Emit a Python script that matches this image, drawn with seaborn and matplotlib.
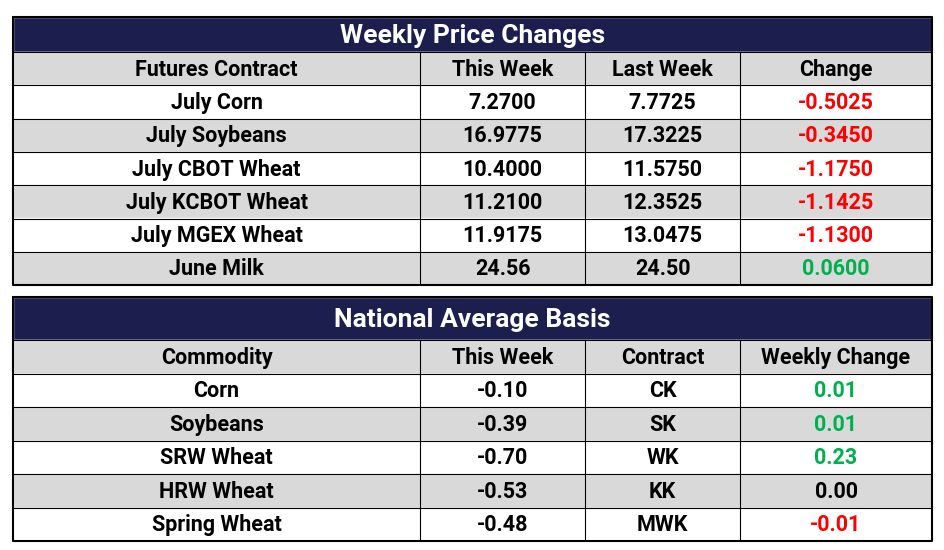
import seaborn as sns
import matplotlib.pyplot as plt

sns.set_theme(style="white")
plt.rcParams['font.family'] = ['Roboto', 'DejaVu Sans']

NAVY = '#1c1e4e'
GRAY = '#d9d9d9'
RED = '#ff0000'
GREEN = '#00b050'

title1 = "Weekly Price Changes"
header1 = ["Futures Contract", "This Week", "Last Week", "Change"]
contracts = ["July Corn", "July Soybeans", "July CBOT Wheat", "July KCBOT Wheat",
             "July MGEX Wheat", "June Milk"]
this_week1 = ["7.2700", "16.9775", "10.4000", "11.2100", "11.9175", "24.56"]
last_week1 = ["7.7725", "17.3225", "11.5750", "12.3525", "13.0475", "24.50"]
change1 = [-0.5025, -0.3450, -1.1750, -1.1425, -1.1300, 0.0600]

title2 = "National Average Basis"
header2 = ["Commodity", "This Week", "Contract", "Weekly Change"]
commodities = ["Corn", "Soybeans", "SRW Wheat", "HRW Wheat", "Spring Wheat"]
this_week2 = ["-0.10", "-0.39", "-0.70", "-0.53", "-0.48"]
contract2 = ["CK", "SK", "WK", "KK", "MWK"]
change2 = [0.01, 0.01, 0.23, 0.00, -0.01]

fig = plt.figure(figsize=(9.45, 5.5), dpi=100)
ax = fig.add_axes([0, 0, 1, 1])
ax.set_xlim(0, 945)
ax.set_ylim(550, 0)
ax.axis('off')

X0, X1 = 13, 932
COLS = [13, 420, 585, 740, 932]


def change_color(v):
    if v > 0:
        return GREEN
    if v < 0:
        return RED
    return 'black'


def draw_table(top, title_h, row_h, title, header, rows, changes, fmt):
    # title bar
    ax.barh(top + title_h / 2, X1 - X0, height=title_h, left=X0, color=NAVY)
    ax.text((X0 + X1) / 2, top + title_h / 2 + 1, title, color='white',
            fontsize=19, fontweight='bold', ha='center', va='center')
    y = top + title_h
    all_rows = [header] + rows
    for i, r in enumerate(all_rows):
        color = GRAY if i % 2 == 0 else 'white'
        ax.barh(y + row_h / 2, X1 - X0, height=row_h, left=X0, color=color)
        for j, txt in enumerate(r):
            cx = (COLS[j] + COLS[j + 1]) / 2
            c = 'black'
            if i > 0 and j == 3:
                c = change_color(changes[i - 1])
                txt = fmt.format(changes[i - 1])
            ax.text(cx, y + row_h / 2 + 1, txt, color=c, fontsize=15.5,
                    fontweight='bold', ha='center', va='center')
        ax.plot([X0, X1], [y, y], color='black', lw=0.8)
        y += row_h
    for cx in COLS[1:-1]:
        ax.plot([cx, cx], [top + title_h, y], color='black', lw=0.8)
    ax.plot([X0, X1, X1, X0, X0], [top, top, y, y, top], color='black', lw=1.5)


rows1 = [[a, b, c, ""] for a, b, c in zip(contracts, this_week1, last_week1)]
draw_table(17, 35, 33.3, title1, header1, rows1, change1, "{:.4f}")
rows2 = [[a, b, c, ""] for a, b, c in zip(commodities, this_week2, contract2)]
draw_table(297, 43, 33.5, title2, header2, rows2, change2, "{:.2f}")

fig.savefig("out.png", dpi=100)
